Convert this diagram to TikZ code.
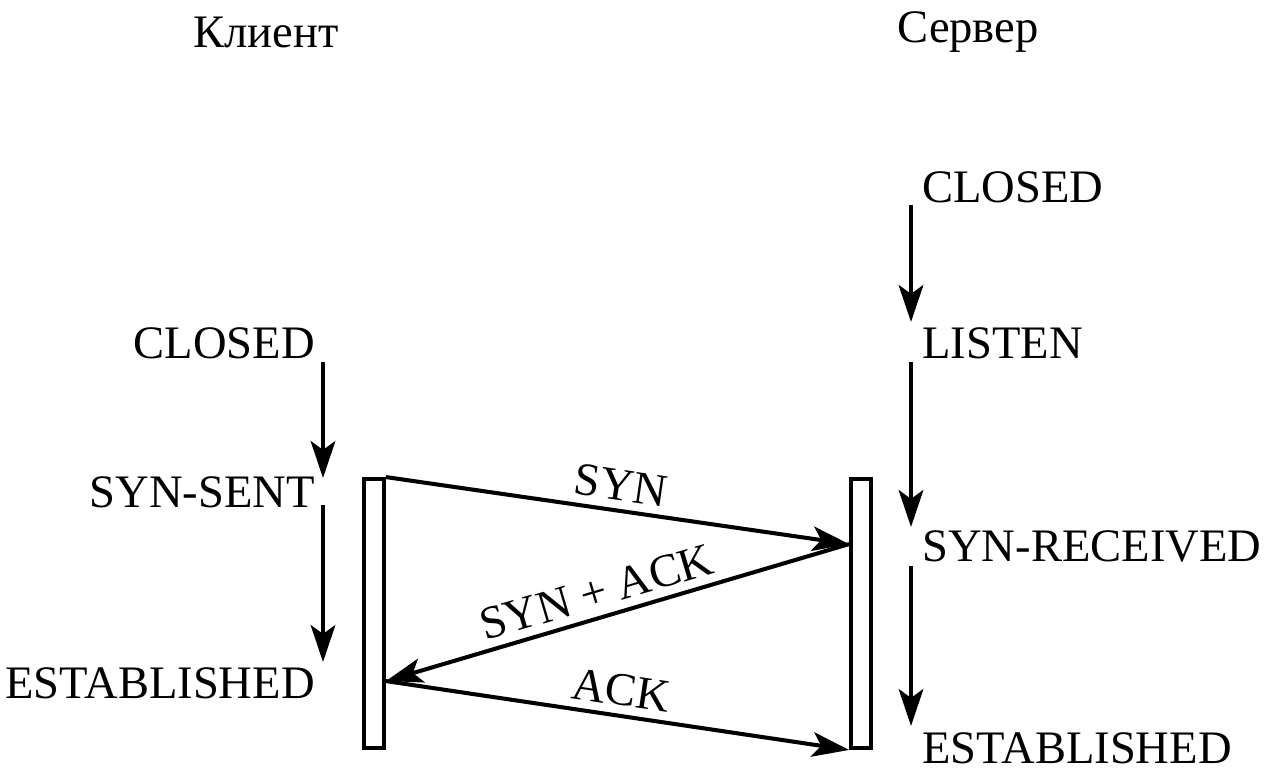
\documentclass[tikz,border=0pt]{standalone}
\usepackage{fontspec}
\setmainfont{Liberation Serif}
\usetikzlibrary{arrows.meta,calc}

\begin{document}
\begin{tikzpicture}[
  state/.style={inner sep=0pt, font=\fontsize{26.5}{30}\selectfont},
  bar/.style={draw, line width=2.2pt, minimum width=0.4cm, minimum height=5.38cm, inner sep=0pt},
  arr/.style={-{Stealth[length=21pt, width=14pt, inset=5pt]}, line width=2.3pt},
  msg/.style={font=\fontsize{26.5}{30}\selectfont, sloped, above, inner sep=4.5pt}
]
\useasboundingbox (0,0) rectangle (25.34,-15.64);

% headings
\node[state] (client) at (5.32,-0.64) {Клиент};
\node[state] (server) at (19.36,-0.64) {Сервер};

% client states
\node[state, anchor=east] (cclosed) at (6.30,-6.86) {CLOSED};
\node[state, anchor=east] (csent) at (6.30,-9.84) {SYN-SENT};
\node[state, anchor=east] (cest) at (6.30,-13.66) {ESTABLISHED};

% server states
\node[state, anchor=west] (sclosed) at (18.44,-3.74) {CLOSED};
\node[state, anchor=west] (slisten) at (18.44,-6.86) {LISTEN};
\node[state, anchor=west] (srecv) at (18.44,-10.92) {SYN-RECEIVED};
\node[state, anchor=west] (sest) at (18.44,-14.96) {ESTABLISHED};

% time bars
\node[bar] (cbar) at (7.48,-12.27) {};
\node[bar] (sbar) at (17.22,-12.27) {};

\coordinate (ca) at (6.46,-7.24);
\coordinate (cb) at (6.46,-9.56);
\coordinate (cc) at (6.46,-10.10);
\coordinate (cd) at (6.46,-13.24);
\coordinate (sa) at (18.22,-4.10);
\coordinate (sb) at (18.22,-6.44);
\coordinate (sc) at (18.22,-7.24);
\coordinate (sd) at (18.22,-10.54);
\coordinate (se) at (18.22,-11.32);
\coordinate (sf) at (18.22,-14.52);

\draw[arr] (ca) -- (cb);
\draw[arr] (cc) -- (cd);
\draw[arr] (sa) -- (sb);
\draw[arr] (sc) -- (sd);
\draw[arr] (se) -- (sf);

% messages
\coordinate (c1) at (cbar.north east);
\coordinate (s1) at ($(sbar.north west)+(0,-1.34)$);
\coordinate (c2) at ($(cbar.north east)+(0,-4.08)$);
\coordinate (s2) at (sbar.south west);

\draw[arr] (c1) -- node[msg, pos=0.5] {SYN} (s1);
\draw[arr] (s1) -- node[msg, pos=0.53] {SYN + ACK} (c2);
\draw[arr] (c2) -- node[msg, pos=0.5] {ACK} (s2);
\end{tikzpicture}
\end{document}
